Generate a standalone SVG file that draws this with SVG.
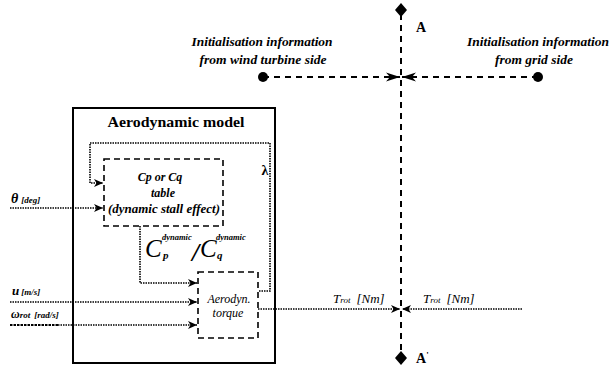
<svg xmlns="http://www.w3.org/2000/svg" width="612" height="367" viewBox="0 0 612 367" font-family="'Liberation Serif', 'Times New Roman', 'DejaVu Serif', serif">
<style>
text{font-family:"Liberation Serif","Times New Roman","DejaVu Serif",serif;fill:#000}
.t{font-style:italic;font-weight:bold}
.i{font-style:italic;font-weight:normal}
.b{font-weight:bold}
.dot{fill:none;stroke:#000;stroke-width:1.6;stroke-dasharray:1.5 1}
.dash{fill:none;stroke:#000;stroke-width:1.6;stroke-dasharray:6 4}
.bigdash{fill:none;stroke:#000;stroke-width:2;stroke-dasharray:6 5}
</style>
<defs>
<marker id="a" markerUnits="userSpaceOnUse" markerWidth="10" markerHeight="8" refX="9" refY="4" orient="auto">
<path d="M0,0 L9,4 L0,8 L2.5,4 z" fill="#000"/>
</marker>
<marker id="ab" markerUnits="userSpaceOnUse" markerWidth="15" markerHeight="10" refX="14" refY="5" orient="auto">
<path d="M0,0.5 L14,5 L0,9.5 L4,5 z" fill="#000"/>
</marker>
</defs>

<g id="connectors">
<line class="bigdash" x1="401" y1="14" x2="401" y2="354"/>
<line class="bigdash" x1="263" y1="77" x2="400" y2="77" marker-end="url(#ab)"/>
<line class="bigdash" x1="538" y1="77" x2="402" y2="77" marker-end="url(#ab)"/>
<polyline class="dot" points="259,291 270,291 270,143 90,143 90,183 103,183" marker-end="url(#a)"/>
<line class="dot" x1="10" y1="208" x2="103" y2="208" marker-end="url(#a)"/>
<polyline class="dot" points="140,226 140,283 197,283" marker-end="url(#a)"/>
<line class="dot" x1="10" y1="302" x2="197" y2="302" marker-end="url(#a)"/>
<line fill="none" stroke="#000" stroke-width="1.8" stroke-dasharray="2.5 1" x1="10" y1="325" x2="58" y2="325"/>
<line class="dot" x1="58" y1="325" x2="197" y2="325" marker-end="url(#a)"/>
<line class="dot" x1="258" y1="309" x2="400" y2="309" marker-end="url(#a)"/>
<line class="dot" x1="522" y1="309" x2="402" y2="309" marker-end="url(#a)"/>
</g>

<g id="pointA">
<path d="M401,3 L407,10 L401,17 L395,10 z" fill="#000"/>
<text class="b" x="416" y="32" font-size="14">A</text>
</g>
<g id="pointA2">
<path d="M401,351 L407,358 L401,365 L395,358 z" fill="#000"/>
<text class="b" x="416" y="363" font-size="14">A<tspan font-size="9" dy="-5">'</tspan></text>
</g>

<g id="initWT">
<circle cx="263" cy="77" r="5" fill="#000"/>
<text class="t" x="262" y="46" font-size="13" text-anchor="middle" textLength="141" lengthAdjust="spacingAndGlyphs">Initialisation information</text>
<text class="t" x="263" y="64" font-size="13" text-anchor="middle" textLength="127" lengthAdjust="spacingAndGlyphs">from wind turbine side</text>
</g>
<g id="initGrid">
<circle cx="538" cy="77" r="5" fill="#000"/>
<text class="t" x="538" y="46" font-size="13" text-anchor="middle" textLength="142" lengthAdjust="spacingAndGlyphs">Initialisation information</text>
<text class="t" x="534" y="64" font-size="13" text-anchor="middle" textLength="78" lengthAdjust="spacingAndGlyphs">from grid side</text>
</g>

<g id="aeroModel">
<rect x="73" y="108" width="202" height="255" fill="none" stroke="#000" stroke-width="2"/>
<text class="b" x="176" y="127" font-size="15" text-anchor="middle" textLength="137" lengthAdjust="spacingAndGlyphs">Aerodynamic model</text>
<text class="b" x="265" y="175" font-size="14" text-anchor="middle">λ</text>
</g>

<g id="cpTable">
<rect class="dash" x="104" y="159" width="119" height="67"/>
<text class="t" x="160" y="181" font-size="12" text-anchor="middle">Cp or Cq</text>
<text class="t" x="163" y="197" font-size="12" text-anchor="middle">table</text>
<text class="t" x="164" y="213" font-size="12" text-anchor="middle" textLength="112" lengthAdjust="spacingAndGlyphs">(dynamic stall effect)</text>
</g>

<g id="cpLabel">
<text class="i" x="145" y="257" font-size="25">C</text>
<text class="t" x="162" y="240" font-size="8.5">dynamic</text>
<text class="t" x="163" y="259" font-size="11">p</text>
<text class="t" x="192" y="261" font-size="26">/</text>
<text class="i" x="200" y="257" font-size="25">C</text>
<text class="t" x="216" y="240" font-size="8.5">dynamic</text>
<text class="t" x="217" y="259" font-size="11">q</text>
</g>

<g id="aeroTorque">
<rect class="dash" x="198" y="272" width="60" height="66"/>
<text class="i" x="229" y="303" font-size="12" text-anchor="middle">Aerodyn.</text>
<text class="i" x="228" y="317" font-size="12" text-anchor="middle">torque</text>
</g>

<g id="inputs">
<text class="t" x="11" y="203" font-size="14">θ<tspan font-size="9" dx="3">[deg]</tspan></text>
<text class="t" x="12" y="295" font-size="13">u<tspan font-size="9" dx="2">[m/s]</tspan></text>
<text class="t" x="11" y="318" font-size="12">ω<tspan font-size="9">rot</tspan><tspan font-size="9" dx="4">[rad/s]</tspan></text>
</g>

<g id="trotLeft">
<text class="i" x="333" y="303" font-size="13">T<tspan font-size="9">rot</tspan><tspan dx="6">[Nm]</tspan></text>
</g>
<g id="trotRight">
<text class="i" x="423" y="303" font-size="13">T<tspan font-size="9">rot</tspan><tspan dx="6">[Nm]</tspan></text>
</g>
</svg>
